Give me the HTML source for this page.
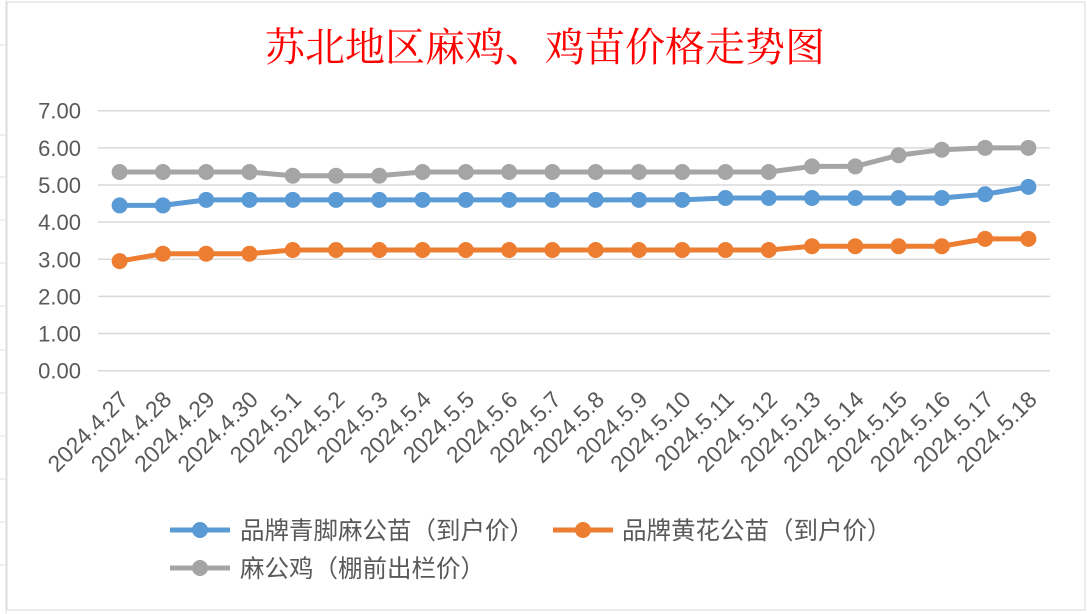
<!DOCTYPE html>
<html><head><meta charset="utf-8"><style>
body{margin:0;background:#fff;}
svg{display:block;font-family:"Liberation Sans","Noto Sans CJK SC",sans-serif;}
</style></head><body>
<svg id="chart" width="1087" height="614" viewBox="0 0 1087 614">
<g stroke="#e2e2e2" stroke-width="1">
<line x1="6" y1="0" x2="6" y2="614"/>
<line x1="0" y1="45" x2="6" y2="45"/><line x1="0" y1="135" x2="6" y2="135"/><line x1="0" y1="177" x2="6" y2="177"/><line x1="0" y1="220" x2="6" y2="220"/><line x1="0" y1="263" x2="6" y2="263"/><line x1="0" y1="306" x2="6" y2="306"/><line x1="0" y1="350" x2="6" y2="350"/><line x1="0" y1="393" x2="6" y2="393"/><line x1="0" y1="436" x2="6" y2="436"/><line x1="0" y1="479" x2="6" y2="479"/><line x1="0" y1="522" x2="6" y2="522"/><line x1="0" y1="565" x2="6" y2="565"/>
</g>
<rect x="7" y="2" width="1078" height="608" fill="#fff" stroke="#d9d9d9"/>
<text x="545" y="61" text-anchor="middle" font-size="40" fill="#ff0000" font-family="'Liberation Serif','Noto Serif CJK SC',serif">苏北地区麻鸡、鸡苗价格走势图</text>
<g id="grid"></g><g id="yticks"></g><g id="xticks"></g><g id="series"></g>
<g font-size="24.5" fill="#595959">
<g><line x1="170" y1="530" x2="230" y2="530" stroke="#5b9bd5" stroke-width="5"/><circle cx="200" cy="530" r="8" fill="#5b9bd5"/><text x="240" y="539">品牌青脚麻公苗（到户价）</text></g>
<g><line x1="553" y1="530" x2="613" y2="530" stroke="#ed7d31" stroke-width="5"/><circle cx="583" cy="530" r="8" fill="#ed7d31"/><text x="622" y="539">品牌黄花公苗（到户价）</text></g>
<g><line x1="170" y1="568" x2="230" y2="568" stroke="#a5a5a5" stroke-width="5"/><circle cx="200" cy="568" r="8" fill="#a5a5a5"/><text x="240" y="577">麻公鸡（棚前出栏价）</text></g>
</g>
</svg>
<script>
const categories=["2024.4.27","2024.4.28","2024.4.29","2024.4.30","2024.5.1","2024.5.2","2024.5.3","2024.5.4","2024.5.5","2024.5.6","2024.5.7","2024.5.8","2024.5.9","2024.5.10","2024.5.11","2024.5.12","2024.5.13","2024.5.14","2024.5.15","2024.5.16","2024.5.17","2024.5.18"];
const blueValues=[4.45,4.45,4.6,4.6,4.6,4.6,4.6,4.6,4.6,4.6,4.6,4.6,4.6,4.6,4.65,4.65,4.65,4.65,4.65,4.65,4.75,4.95];
const orangeValues=[2.95,3.15,3.15,3.15,3.25,3.25,3.25,3.25,3.25,3.25,3.25,3.25,3.25,3.25,3.25,3.25,3.35,3.35,3.35,3.35,3.55,3.55];
const grayValues=[5.35,5.35,5.35,5.35,5.25,5.25,5.25,5.35,5.35,5.35,5.35,5.35,5.35,5.35,5.35,5.35,5.5,5.5,5.8,5.95,6.0,6.0];
const yTicks=[0,1,2,3,4,5,6,7];
const NS="http://www.w3.org/2000/svg";
const x0=98,x1=1050,yBase=370.7,yTop=110.7,yMax=7;
const step=(x1-x0)/categories.length;
const xs=i=>x0+step*(i+0.5);
const ys=v=>yBase-(v/yMax)*(yBase-yTop);
function mk(t,a,p){const e=document.createElementNS(NS,t);for(const k in a)e.setAttribute(k,a[k]);p.appendChild(e);return e;}
const grid=document.getElementById('grid'),yt=document.getElementById('yticks'),xt=document.getElementById('xticks'),ser=document.getElementById('series');
yTicks.forEach(v=>{
 const l=mk('line',{x1:x0,x2:x1,y1:ys(v),y2:ys(v),stroke:'#d9d9d9','stroke-width':1.5},grid);
 
 
 const t=mk('text',{x:81,y:ys(v)+8,'text-anchor':'end','font-size':22,fill:'#595959'},yt);
 t.textContent=v.toFixed(2);
 
 
});
categories.forEach((c,i)=>{
 const x=xs(i)+10,y=401;
 const t=mk('text',{x:x,y:y,'text-anchor':'end','font-size':23,fill:'#595959',transform:`rotate(-45 ${x} ${y})`},xt);
 t.textContent=c;
 
 
});
[[grayValues,'#a5a5a5','gray'],[blueValues,'#5b9bd5','blue'],[orangeValues,'#ed7d31','orange']].forEach(([vals,col,nm])=>{
 const g=mk('g',{},ser);
 
 
 const p=mk('polyline',{points:vals.map((v,i)=>xs(i)+','+ys(v)).join(' '),fill:'none',stroke:col,'stroke-width':5,'stroke-linejoin':'round'},g);
 
 
 vals.forEach((v,i)=>{
  const c=mk('circle',{cx:xs(i),cy:ys(v),r:8,fill:col},g);
  
  
 });
});
</script>
</body></html>
